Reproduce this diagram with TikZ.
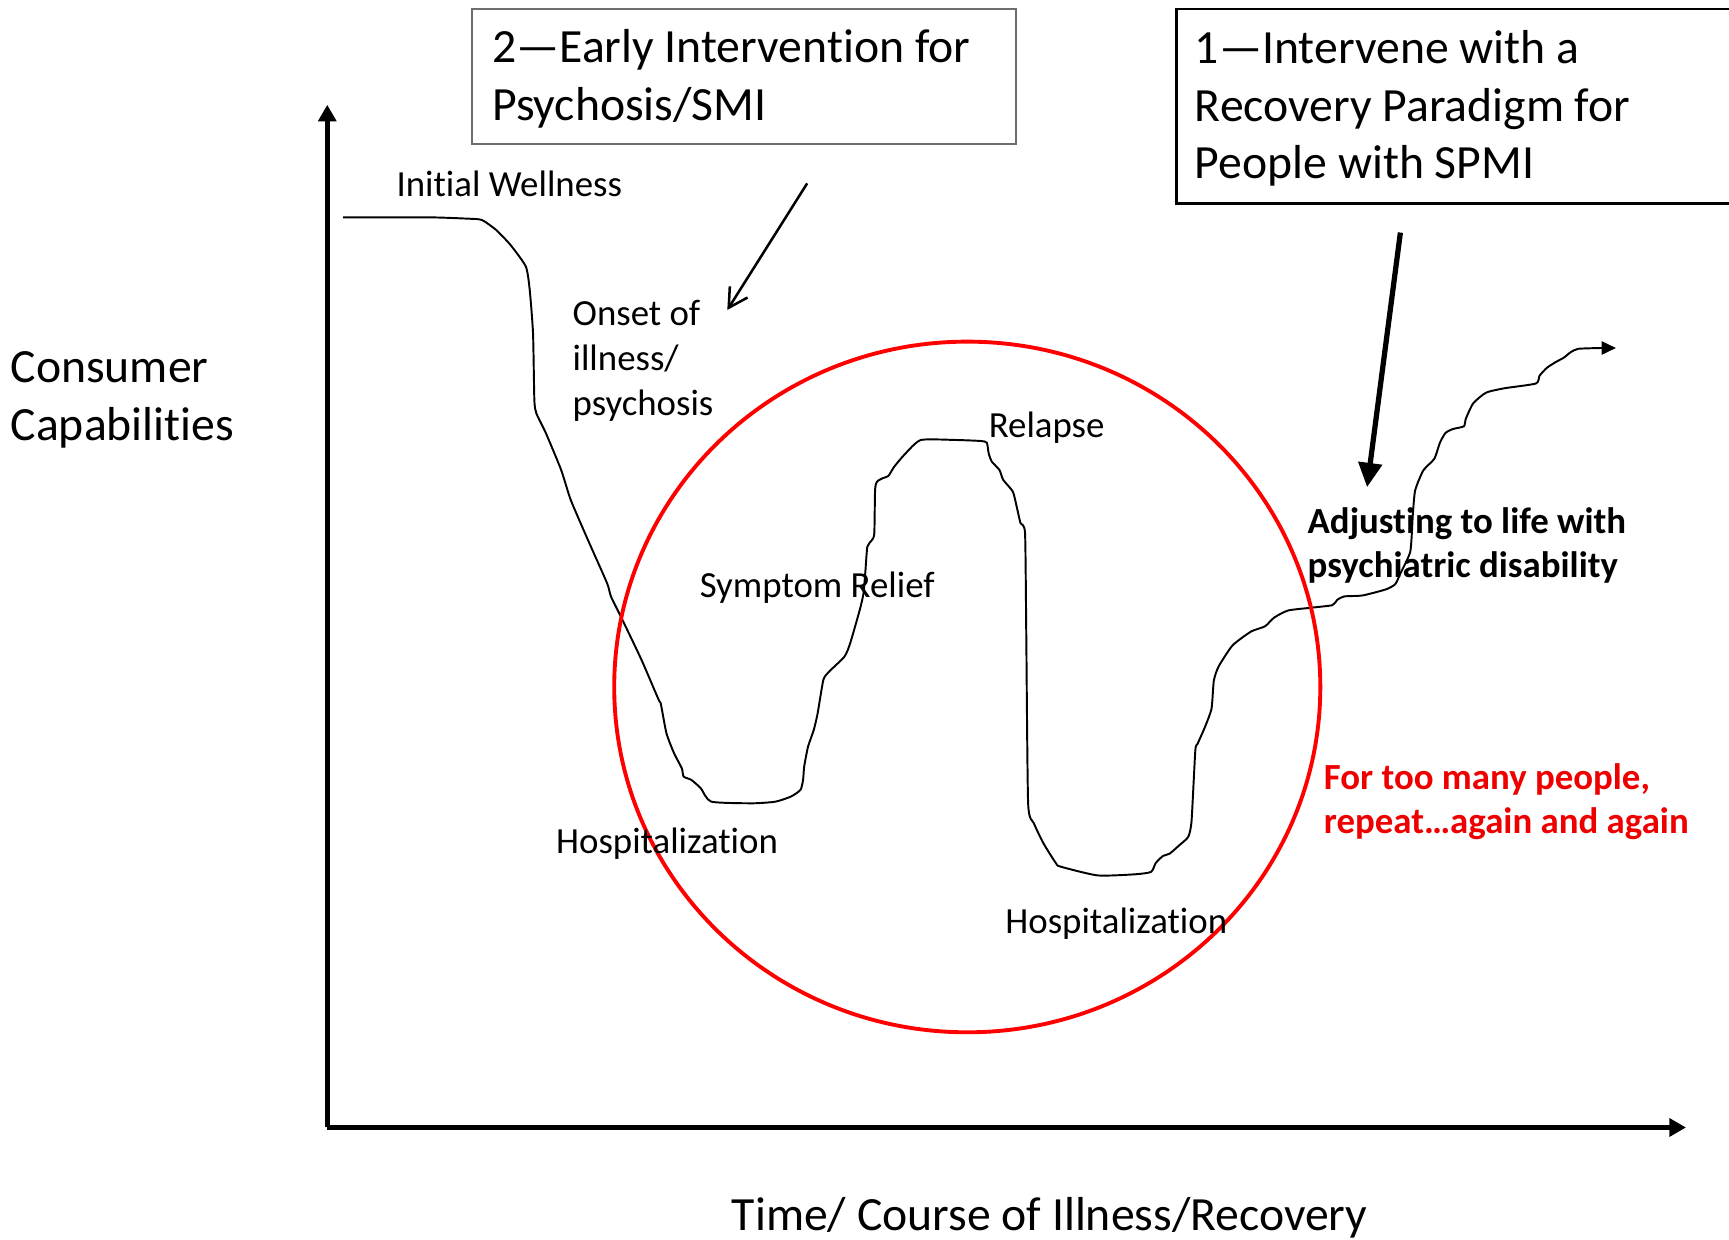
\documentclass[tikz,border=0pt]{standalone}
\usepackage{fontspec}
\setmainfont{Carlito}[Ligatures=NoCommon]
\usetikzlibrary{arrows.meta,shapes.geometric}
\definecolor{boxgray}{RGB}{110,110,110}
\definecolor{cred}{RGB}{255,0,0}
\definecolor{tred}{RGB}{238,0,0}
\tikzset{
  small/.style={font=\fontsize{9.5pt}{11.6pt}\selectfont, inner sep=0pt, anchor=base west},
  smallml/.style={small, text width=4cm, align=left},
  boldml/.style={font=\bfseries\fontsize{9.5pt}{11.3pt}\selectfont, inner sep=0pt, anchor=base west, text width=5cm, align=left},
  big/.style={font=\fontsize{12.3pt}{14.9pt}\selectfont, inner sep=0pt, anchor=base west},
  bigml/.style={big, text width=6cm, align=left},
  frame/.style={draw, inner sep=0pt, anchor=north west},
  axis/.style={line width=1.4pt, -{Triangle[length=0.15cm,width=0.16cm]}},
  course/.style={line width=0.5pt, line join=round, -{Triangle[length=0.13cm,width=0.12cm]}},
}
\newcommand{\nsp}{\spaceskip=0pt\xspaceskip=0pt\relax}
\begin{document}
\begin{tikzpicture}[x=0.01cm,y=-0.01cm]
\useasboundingbox (0,0) rectangle (1568,1124);

% axes
\coordinate (orig) at (296.8,1022.5);
\coordinate (ytip) at (296.8,95);
\coordinate (xtip) at (1529,1022.5);
\draw[axis] (orig) -- (ytip);
\draw[axis] (orig) -- (xtip);

% course of illness curve
\coordinate (cend) at (1465.5,315.6);
\draw[course] plot[smooth, tension=0.35] coordinates {
(311.2,197.1) (389.3,197.1) (424,198.3) (437,199.5) (450,208.6) (463,222.2) (476.9,241.8) (480.4,263) (483.4,302.3) (484.6,362.7) (486.4,374.8) (495.1,392.9) (508.9,426.2) (517.6,453.4) (533.2,489.7) (550.6,529) (554.1,541) (564.5,562.2) (581.8,598.5) (597.4,634.8) (599.2,637.8) (604.4,665) (611.3,683.1) (618.3,696.7) (620,704.3) (627,707.3) (635.6,714.9) (645,727) (682.5,728.5) (703.3,727) (717.2,722.4) (725.9,716.4) (728.3,707.3) (729.3,695.2) (732.8,677.1) (738,662) (741.5,646.9) (746.7,616.6) (751.9,609.1) (765.8,595.5) (771,583.4) (779.7,553.1) (783.1,538) (784.9,516.9) (786.6,495.7) (790.8,489.7) (792.9,483.6) (793.6,444.3) (795.3,436.8) (800.5,433.7) (805.7,431.6) (811,423.2) (821.3,411.1) (835.2,399) (866.4,399) (889,399.9) (894.9,401.4) (896.6,411.1) (899.4,418.6) (906.4,426.2) (909.8,435.2) (918.5,445.8) (922,459.4) (925.5,474.5) (929.6,483.6) (930.7,574.3) (932.4,728.5) (937.6,746.6) (946.3,764.8) (957.5,782.7) (961.7,785.9) (995.4,793.9) (1029.2,792.9) (1043.9,790.7) (1048.1,782.7) (1054.5,776.4) (1060.8,774.1) (1069.2,766.8) (1077.6,758.9) (1080.6,744.5) (1084,680.9) (1086.1,674.5) (1092.4,660.2) (1098.7,642.7) (1100.8,617.3) (1105.1,604.5) (1117.7,585.4) (1134.6,572.7) (1147.2,568) (1155.6,560) (1168.3,553.6) (1189.4,551.1) (1208.3,548.8) (1212.6,544.1) (1218.9,540.9) (1235.7,540) (1256.8,534.5) (1265.3,529.8) (1270,520) (1279,500) (1281.3,466.2) (1283.4,444.7) (1290.7,426.7) (1300.8,416) (1305.8,401.6) (1310.8,392.7) (1317.5,389.1) (1327.6,386.6) (1329.2,380.1) (1336,365.8) (1347.7,356.1) (1364.4,352.1) (1392.9,347.8) (1396.2,340.7) (1402.9,333.5) (1411.3,328.1) (1418,324.5) (1424.7,319.2) (1431.4,316.3) (1452.1,315.6)} -- (cend);

% red circle
\node (cycle) [draw=cred, line width=1pt, ellipse, minimum width=6.4cm, minimum height=6.26cm, inner sep=0pt] at (877.2,623) {};

% boxes
\node (box2) [frame, draw=boxgray, line width=0.5pt, minimum width=4.93cm, minimum height=1.23cm] at (427,7) {};
\node (box2t) [bigml] at (445.7,56.5) {\nsp 2—Early Intervention for\\Psychosis/SMI};
\node (box1) [frame, draw=black, line width=0.7pt, minimum width=5.4cm, minimum height=1.76cm] at (1066,7) {};
\node (box1t) [bigml] at (1083,57.5) {\nsp 1—Intervene with a\\Recovery Paradigm for\\People with SPMI};

% arrows from boxes
\coordinate (a2s) at (732,166.3);
\coordinate (a2e) at (659.6,281.1);
\draw[line width=0.65pt, -{Straight Barb[length=0.17cm,width=0.19cm]}] (a2s) -- (a2e);
\coordinate (a1s) at (1270,210.9);
\coordinate (a1e) at (1239.8,441.8);
\draw[line width=1.35pt, -{Triangle[length=0.22cm,width=0.21cm]}] (a1s) -- (a1e);

% labels
\node (ylab) [bigml] at (9,347) {\nsp Consumer\\Capabilities};
\node (xlab) [big] at (663,1116) {Time/ Course of Illness/Recovery};
\node (well) [small] at (358.9,178) {Initial Wellness};
\node (onset) [smallml] at (518.6,295.2) {\nsp Onset of\\illness/\\psychosis};
\node (relapse) [small] at (896,396.4) {Relapse};
\node (relief) [small] at (633.9,542) {Symptom Relief};
\node (hosp1) [small] at (503.7,774.3) {Hospitalization};
\node (hosp2) [small] at (911.1,846.8) {Hospitalization};
\node (adjust) [boldml] at (1185.2,484) {\nsp Adjusting to life with\\psychiatric disability};
\node (repeat) [boldml, text=tred] at (1199.9,716.3) {\nsp For too many people,\\repeat…again and again};
\end{tikzpicture}
\end{document}
